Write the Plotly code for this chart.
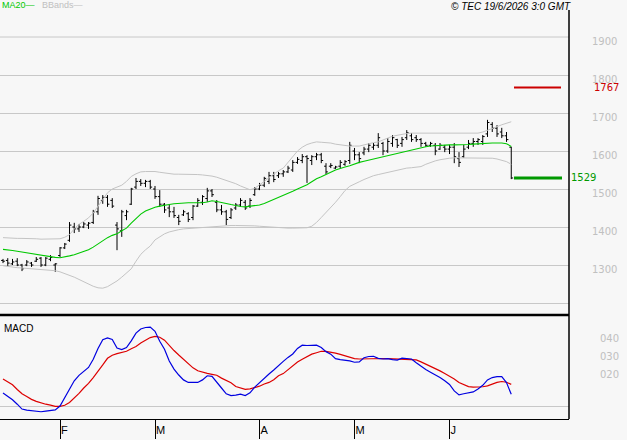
import plotly.graph_objects as go

# ---------------- data ----------------
opens = [1312,1312,1303,1310,1300,1300,1305,1310,1318,1300,
         1315,1300,1325,1345,1365,1400,1395,1400,1405,1412,
         1440,1470,1478,1470,1405,1390,1430,1460,1505,1520,
         1515,1520,1500,1480,1460,1450,1440,1425,1432,1435,
         1425,1455,1465,1475,1495,1465,1445,1440,1425,1450,
         1458,1465,1455,1485,1500,1510,1520,1535,1535,1540,
         1545,1550,1570,1575,1585,1575,1585,1590,1560,1560,
         1555,1560,1565,1575,1600,1590,1595,1605,1610,1615,
         1620,1600,1620,1630,1620,1635,1640,1635,1630,1620,
         1615,1615,1605,1610,1605,1610,1580,1585,1610,1620,
         1625,1625,1645,1670,1660,1650,1640,1610]
highs = [1316,1318,1316,1318,1303,1313,1308,1321,1321,1321,
         1326,1305,1347,1358,1413,1411,1408,1413,1413,1445,
         1482,1484,1484,1476,1413,1445,1445,1503,1529,1526,
         1524,1524,1508,1497,1463,1458,1453,1432,1445,1439,
         1458,1476,1484,1503,1500,1471,1458,1445,1450,1463,
         1476,1471,1476,1505,1516,1532,1545,1545,1545,1550,
         1561,1576,1584,1592,1589,1589,1595,1595,1568,1568,
         1561,1576,1576,1624,1608,1597,1611,1621,1621,1647,
         1624,1634,1642,1632,1637,1655,1647,1642,1634,1624,
         1624,1621,1621,1616,1616,1621,1597,1616,1629,1634,
         1634,1642,1682,1676,1668,1661,1650,1611]
lows = [1305,1297,1300,1297,1284,1297,1295,1308,1295,1297,
        1310,1282,1321,1342,1361,1384,1387,1397,1395,1408,
        1432,1461,1453,1450,1339,1374,1418,1458,1500,1508,
        1505,1500,1474,1453,1437,1426,1424,1405,1429,1413,
        1418,1453,1458,1466,1479,1439,1432,1405,1421,1445,
        1453,1445,1450,1482,1497,1505,1513,1518,1529,1532,
        1542,1545,1566,1568,1516,1563,1576,1568,1539,1555,
        1553,1555,1561,1566,1576,1568,1589,1597,1603,1608,
        1589,1595,1611,1608,1611,1629,1624,1624,1611,1611,
        1611,1589,1603,1597,1592,1568,1558,1582,1605,1611,
        1616,1616,1637,1650,1637,1634,1624,1526]
closes = [1310,1305,1308,1300,1290,1308,1300,1315,1300,1318,
          1320,1303,1345,1355,1405,1395,1400,1408,1410,1440,
          1475,1478,1460,1455,1395,1440,1440,1500,1520,1515,
          1520,1505,1480,1460,1445,1440,1430,1415,1440,1420,
          1455,1470,1480,1495,1485,1445,1440,1420,1445,1458,
          1470,1450,1470,1500,1510,1528,1535,1525,1540,1545,
          1555,1570,1578,1585,1580,1585,1590,1575,1545,1562,
          1558,1570,1572,1615,1590,1580,1605,1615,1615,1635,
          1600,1625,1635,1615,1630,1648,1630,1630,1620,1615,
          1620,1600,1615,1605,1610,1585,1570,1605,1620,1625,
          1630,1638,1675,1660,1645,1640,1630,1529]
ma20 = [1341,1340,1338,1336,1334,1331,1329,1327,1325,1323,
        1322,1320,1319,1321,1324,1327,1331,1334,1340,1347,
        1356,1364,1372,1378,1382,1390,1397,1410,1422,1434,
        1442,1448,1452,1455,1458,1459,1461,1462,1464,1464,
        1464,1464,1464,1466,1469,1467,1465,1462,1459,1456,
        1454,1453,1455,1456,1458,1462,1467,1472,1478,1483,
        1489,1494,1500,1505,1511,1519,1527,1532,1539,1544,
        1550,1555,1558,1561,1566,1570,1573,1576,1579,1583,
        1586,1589,1592,1595,1598,1601,1604,1607,1610,1611,
        1613,1614,1615,1616,1616,1616,1616,1616,1617,1618,
        1619,1620,1621,1621,1621,1621,1619,1612]
bb_upper = [1372,1371,1371,1370,1370,1370,1369,1369,1368,1368,
            1368,1368,1369,1373,1380,1395,1407,1415,1424,1437,
            1456,1472,1490,1500,1505,1510,1520,1533,1540,1545,
            1546,1546,1546,1544,1542,1540,1539,1539,1539,1539,
            1539,1538,1537,1536,1534,1531,1527,1523,1519,1514,
            1508,1502,1498,1502,1510,1520,1530,1540,1548,1555,
            1570,1585,1600,1610,1617,1621,1624,1623,1622,1621,
            1618,1616,1614,1613,1613,1613,1616,1620,1622,1624,
            1628,1634,1639,1642,1645,1646,1647,1647,1647,1647,
            1647,1647,1647,1647,1647,1647,1647,1647,1647,1647,
            1647,1650,1654,1658,1664,1669,1673,1677]
bb_lower = [1298,1296,1294,1293,1292,1291,1290,1290,1289,1288,
            1287,1285,1282,1278,1274,1268,1262,1256,1249,1244,
            1240,1239,1243,1250,1258,1268,1278,1290,1310,1328,
            1340,1350,1366,1375,1382,1387,1391,1393,1395,1396,
            1397,1398,1399,1400,1401,1402,1403,1403,1404,1404,
            1404,1404,1404,1403,1402,1401,1400,1399,1398,1398,
            1397,1397,1397,1397,1398,1402,1412,1425,1438,1450,
            1465,1480,1496,1507,1514,1519,1525,1531,1535,1538,
            1541,1545,1548,1551,1553,1555,1556,1557,1559,1565,
            1570,1574,1577,1580,1581,1582,1582,1582,1582,1582,
            1582,1582,1582,1581,1579,1576,1572,1565]
macd = [7.2,5.5,3.5,1,-1.7,-2.3,-2.7,-3,-3.2,-2.8,
        -2.3,-2.2,0,4.5,9.5,14,17,19,21.4,26,
        32,36.8,37.8,37,32.2,31.3,32.5,36.2,40.5,42.8,
        43.6,43.8,41.5,36,31.5,25,20.5,17.2,14.5,13.1,
        13,13.1,14.5,16.8,16.5,13.5,10,6.8,5.8,6,
        6.6,5.8,7.3,10.5,13,15.8,17.8,20,22.6,24.8,
        27,28.9,32,33.8,33.6,33.5,33.8,32.5,30.2,28.8,
        26.3,25.8,25.5,25.1,24.3,24.5,26.8,27.5,27.6,26.5,
        26.1,26.3,25.8,25.5,26.6,26.4,26.1,24,22,20.3,
        18.8,17.4,15.8,14,12,8.4,6.2,6.8,7.5,7.8,
        9.5,11.5,14.5,15.8,16.3,16.3,13,6.5]
signal = [15,13.2,11.8,9.2,6.8,5.3,3.7,2.6,1.6,1,
          0.5,-0.2,-0.2,0.4,2,4.3,7,10,12.6,15.8,
          19,22.8,26.5,28.2,29.1,29.6,30.4,31.8,33,35,
          36.4,38,38.7,38.2,36.6,33.6,30.8,28.3,25.9,23.3,
          21.2,19.6,18.7,18.1,17.6,17.1,15.5,14.1,12.9,10.8,
          9.8,9.2,9.5,10.1,11,12.2,13.1,14.6,16.8,18,
          20.3,22.5,24.4,26,27.5,28.8,29.6,30.4,30.3,30,
          29.4,28.7,27.9,27,26.3,26.1,26.2,26.4,26.4,26.4,
          26.4,26.3,26.2,26.1,26.1,26.1,26.1,25.6,24.5,23.3,
          22,20.8,19.5,18,16.7,15,13,11.7,10.8,10.5,
          10.4,10.7,11.2,12.3,13.1,13.6,13.2,12]
month_pos = [12, 32, 54, 74, 94]
month_labels = ["F", "M", "A", "M", "J"]
price_ticks = [1200, 1300, 1400, 1500, 1600, 1700, 1800, 1900]
price_tick_text = ["", "1300", "1400", "1500", "1600", "1700", "1800", "1900"]
macd_ticks = [20, 30, 40]
macd_tick_text = ["020", "030", "040"]
target_high = 1767
target_low = 1529
copyright_text = "© TEC 19/6/2026 3:0 GMT"

# ---------------- layout helpers ----------------
W, H = 627, 440
def px_x(p):
    return p / W
def px_y(p):
    return (H - p) / H

bars = list(range(len(closes)))
x_right = 569
price_top, price_bot = 37, 315
macd_top, macd_bot = 315, 419
BG = "#f7f7f7"
GRID = "#c8c8c8"
LABEL = "#c0c0c0"

fig = go.Figure()
fig.add_trace(go.Scatter(x=bars, y=bb_upper, mode="lines", line=dict(color="#c4c4c4", width=1),
                         xaxis="x", yaxis="y", hoverinfo="skip"))
fig.add_trace(go.Scatter(x=bars, y=bb_lower, mode="lines", line=dict(color="#c4c4c4", width=1),
                         xaxis="x", yaxis="y", hoverinfo="skip"))
fig.add_trace(go.Scatter(x=bars, y=ma20, mode="lines", line=dict(color="#00c800", width=1.1),
                         xaxis="x", yaxis="y", hoverinfo="skip"))
fig.add_trace(go.Ohlc(x=bars, open=opens, high=highs, low=lows, close=closes,
                      increasing=dict(line=dict(color="black", width=1)),
                      decreasing=dict(line=dict(color="black", width=1)),
                      tickwidth=0.4, xaxis="x", yaxis="y", hoverinfo="skip"))
fig.add_trace(go.Scatter(x=bars, y=signal, mode="lines", line=dict(color="#dd0000", width=1.2),
                         xaxis="x", yaxis="y2", hoverinfo="skip"))
fig.add_trace(go.Scatter(x=bars, y=macd, mode="lines", line=dict(color="#0000e0", width=1.2),
                         xaxis="x", yaxis="y2", hoverinfo="skip"))

# axis ranges derived from pixel geometry (index i at pixel 3 + 4.75 i)
step = 4.75
x0_idx = (0 - 3) / step
x1_idx = (x_right - 3) / step
ppu = 0.38  # pixels per price unit
y_top_val = 1900
y_bot_val = 1900 - (price_bot - price_top) / ppu
mppu = 1.8
macd_zero_px = 406
m_top = (macd_zero_px - macd_top) / mppu
m_bot = (macd_zero_px - macd_bot) / mppu

fig.update_layout(
    width=W, height=H, autosize=False,
    margin=dict(l=0, r=0, t=0, b=0, pad=0),
    paper_bgcolor=BG, plot_bgcolor=BG,
    showlegend=False,
    font=dict(family="DejaVu Sans", size=10, color=LABEL),
    xaxis=dict(domain=[0, px_x(x_right)], range=[x0_idx, x1_idx], anchor="y2",
               automargin=False,
               tickvals=month_pos, ticktext=month_labels,
               ticks="outside", ticklen=19, tickcolor="black", tickwidth=1,
               ticklabelposition="outside right", ticklabelstandoff=1,
               tickfont=dict(family="Liberation Sans", size=11, color="black"),
               showgrid=False, zeroline=False,
               showline=True, linecolor="black", linewidth=1,
               rangeslider=dict(visible=False), fixedrange=True),
    yaxis=dict(domain=[px_y(price_bot), px_y(price_top)], range=[y_bot_val, y_top_val],
               automargin=False,
               side="right", anchor="x", tickvals=price_ticks, ticktext=price_tick_text,
               ticks="", showgrid=True, gridcolor=GRID, gridwidth=1, zeroline=False,
               showline=False, ticklabelstandoff=22, ticklabelshift=4,
               tickfont=dict(family="DejaVu Sans", size=10, color=LABEL), fixedrange=True),
    yaxis2=dict(domain=[px_y(macd_bot), px_y(macd_top)], range=[m_bot, m_top],
                automargin=False,
                side="right", anchor="x", tickvals=macd_ticks, ticktext=macd_tick_text,
                ticks="", showgrid=False, zeroline=True, zerolinecolor=GRID, zerolinewidth=1,
                showline=False, ticklabelstandoff=30, ticklabelshift=4,
                tickfont=dict(family="DejaVu Sans", size=10, color=LABEL), fixedrange=True),
)

shapes = [
    # top border of price panel
    dict(type="line", xref="paper", yref="paper", x0=0, x1=px_x(x_right),
         y0=px_y(price_top), y1=px_y(price_top), line=dict(color=GRID, width=1)),
    # thick separator between panels
    dict(type="line", xref="paper", yref="paper", x0=0, x1=px_x(x_right),
         y0=px_y(price_bot), y1=px_y(price_bot), line=dict(color="black", width=2.5)),
    # right border
    dict(type="line", xref="paper", yref="paper", x0=px_x(x_right), x1=px_x(x_right),
         y0=px_y(macd_bot), y1=px_y(10), line=dict(color="black", width=1.5)),
    # target lines
    dict(type="line", xref="x", yref="y", x0=(514 - 3) / step, x1=(561 - 3) / step,
         y0=target_high, y1=target_high, line=dict(color="#cc0000", width=2)),
    dict(type="line", xref="x", yref="y", x0=(514 - 3) / step, x1=(562 - 3) / step,
         y0=target_low, y1=target_low, line=dict(color="#009900", width=3)),
]
fig.update_layout(shapes=shapes)

ann = [
    dict(text="MA20—", x=px_x(1), y=px_y(5), xanchor="left", yanchor="middle",
         font=dict(family="Liberation Sans", size=9, color="#00c800")),
    dict(text="BBands—", x=px_x(41), y=px_y(5), xanchor="left", yanchor="middle",
         font=dict(family="Liberation Sans", size=9, color="#c0c0c0")),
    dict(text="<i>" + copyright_text + "</i>", x=px_x(511), y=px_y(6), xanchor="center", yanchor="middle",
         font=dict(family="Liberation Sans", size=10, color="black")),
    dict(text="MACD", x=px_x(3), y=px_y(328), xanchor="left", yanchor="middle",
         font=dict(family="Liberation Sans", size=10, color="black")),
    dict(text=str(target_high), x=px_x(593), y=target_high, yref="y", xanchor="left", yanchor="middle",
         font=dict(family="DejaVu Sans", size=10, color="#cc0000")),
    dict(text=str(target_low), x=px_x(570), y=target_low, yref="y", xanchor="left", yanchor="middle",
         font=dict(family="DejaVu Sans", size=10, color="#009900")),
]
for a in ann:
    a.setdefault("xref", "paper")
    a.setdefault("yref", "paper")
    a["showarrow"] = False
    a["borderpad"] = 0
fig.update_layout(annotations=ann)

fig.write_html("out.html", config={"displayModeBar": False})
